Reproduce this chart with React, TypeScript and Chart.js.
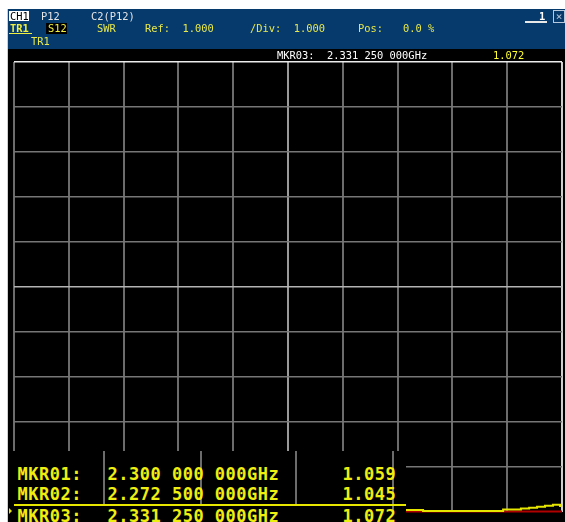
import React, { useEffect, useRef } from "react";
import { Chart, registerables } from "chart.js";

Chart.register(...registerables);

// ---- data ----
const freqStartGHz = 2.2;
const freqStopGHz = 2.4;
const xGridTicks = [2.2, 2.22, 2.24, 2.26, 2.28, 2.3, 2.32, 2.34, 2.36, 2.38, 2.4];
const yGridTicks = [1, 2, 3, 4, 5, 6, 7, 8, 9, 10, 11];
const refLevel = 1.0;
const perDiv = 1.0;

const traceFreqs = [2.2, 2.23, 2.26, 2.2725, 2.29, 2.3, 2.315, 2.33125, 2.3336, 2.3493, 2.3785, 2.385, 2.388, 2.3909, 2.3938, 2.3967, 2.3993, 2.4];
const traceSwr = [1.12, 1.09, 1.06, 1.045, 1.05, 1.059, 1.066, 1.072, 1.033, 1.011, 1.045, 1.067, 1.085, 1.107, 1.129, 1.151, 1.12, 1.12];

const markerNames = ["MKR01:", "MKR02:", "MKR03:"];
const markerFreqs = ["2.300 000 000GHz", "2.272 500 000GHz", "2.331 250 000GHz"];
const markerValues = ["1.059", "1.045", "1.072"];

const HDR_FONT = "'DejaVu Sans Mono', monospace";

function T(props: { x: number; y: number; text: string; color?: string; size?: number; bold?: boolean; bg?: string; ls?: number; style?: React.CSSProperties }) {
  const size = props.size ?? 10.4;
  return (
    <div
      style={{
        position: "absolute",
        left: props.x,
        top: props.y,
        fontFamily: HDR_FONT,
        fontSize: size,
        lineHeight: `${size}px`,
        color: props.color ?? "#e8e84c",
        fontWeight: props.bold ? "bold" : "normal",
        whiteSpace: "pre",
        background: props.bg,
        letterSpacing: props.ls ?? 0,
        ...props.style,
      }}
    >
      {props.text}
    </div>
  );
}

export default function App() {
  const canvasRef = useRef<HTMLCanvasElement | null>(null);

  useEffect(() => {
    if (!canvasRef.current) return;
    const chart = new Chart(canvasRef.current, {
      type: "line",
      data: {
        datasets: [
          {
            label: "TR1 S12 SWR",
            data: traceFreqs.map((f, i) => ({ x: f, y: traceSwr[i] })),
            borderColor: "#e6e600",
            borderWidth: 2,
            pointRadius: 0,
            stepped: true,
            clip: 4,
          },
          {
            label: "Ref",
            data: [
              { x: freqStartGHz, y: refLevel },
              { x: freqStopGHz, y: refLevel },
            ],
            borderColor: "#b00000",
            borderWidth: 2,
            pointRadius: 0,
            clip: 4,
          },
        ],
      },
      options: {
        animation: false,
        responsive: false,
        devicePixelRatio: 1,
        layout: { padding: { left: 14, right: 3, top: 62, bottom: 10.5 } },
        plugins: { legend: { display: false }, tooltip: { enabled: false } },
        events: [],
        scales: {
          x: {
            type: "linear",
            min: freqStartGHz,
            max: freqStopGHz,
            afterBuildTicks: (axis: any) => {
              axis.ticks = xGridTicks.map((v) => ({ value: v }));
            },
            ticks: { display: false },
            border: { display: false },
            grid: {
              drawTicks: false,
              lineWidth: 2,
              color: (ctx: any) =>
                ctx.index === xGridTicks.length - 1 ? "#cfcfcf" : ctx.index === 5 ? "#9a9a9a" : "#6c6c6c",
            },
          },
          y: {
            type: "linear",
            min: refLevel,
            max: refLevel + perDiv * 10,
            afterBuildTicks: (axis: any) => {
              axis.ticks = yGridTicks.map((v) => ({ value: v }));
            },
            ticks: { display: false },
            border: { display: false },
            grid: {
              drawTicks: false,
              lineWidth: 1.5,
              color: (ctx: any) =>
                ctx.index === yGridTicks.length - 1
                  ? "#ececec"
                  : ctx.index === 5
                  ? "#b4b4b4"
                  : ctx.index === 0
                  ? "rgba(0,0,0,0)"
                  : "#767676",
            },
          },
        },
      },
    });
    return () => chart.destroy();
  }, []);

  const TBL_FONT = 17;
  const rowTops = [465.6, 485.6, 507.9];

  return (
    <div
      style={{
        position: "absolute",
        left: 0,
        top: 0,
        width: 565,
        height: 522,
        overflow: "hidden",
        background: "#ffffff",
      }}
    >
      {/* header */}
      <div style={{ position: "absolute", left: 8, top: 9, width: 557, height: 40, background: "#063a6d" }} />
      <div style={{ position: "absolute", left: 7, top: 9, width: 1, height: 513, background: "#d4ccd4" }} />
      {/* screen */}
      <div style={{ position: "absolute", left: 8, top: 49, width: 557, height: 473, background: "#000000" }} />

      <canvas
        ref={canvasRef}
        width={565}
        height={522}
        style={{ position: "absolute", left: 0, top: 0, width: 565, height: 522 }}
      />

      {/* header texts */}
      <div style={{ position: "absolute", left: 9, top: 11, width: 20, height: 10, background: "#ffffff" }} />
      <T x={10} y={11.2} text="CH1" color="#000000" />
      <T x={41} y={11.2} text="P12" color="#e4e4e4" />
      <T x={91} y={11.2} text="C2(P12)" color="#e4e4e4" />

      <T x={10} y={23.2} text="TR1" bold color="#f0f040" />
      <div style={{ position: "absolute", left: 9, top: 33, width: 23, height: 1, background: "#f0f040" }} />
      <div style={{ position: "absolute", left: 46, top: 23, width: 21, height: 11, background: "#000000" }} />
      <T x={48} y={23.2} text="S12" color="#f0f040" />
      <T x={97} y={23.2} text="SWR" />
      <T x={145} y={23.2} text="Ref:  1.000" />
      <T x={250} y={23.2} text="/Div:  1.000" />
      <T x={358} y={23.2} text="Pos:" />
      <T x={403} y={23.2} text="0.0 %" />

      <T x={31} y={36.2} text="TR1" />

      {/* window buttons */}
      <div style={{ position: "absolute", left: 525, top: 21, width: 22, height: 1.5, background: "#e8e8e8" }} />
      <T x={539} y={11.2} text="1" color="#ffffff" bold />
      <div
        style={{
          position: "absolute",
          left: 553,
          top: 10,
          width: 10,
          height: 11,
          border: "1px solid #b8c8dc",
          color: "#b8c8dc",
          fontFamily: HDR_FONT,
          fontSize: 11,
          lineHeight: "11px",
          textAlign: "center",
        }}
      >
        ×
      </div>

      {/* active marker readout */}
      <T x={277} y={49.7} text="MKR03:  2.331 250 000GHz" color="#ffffff" />
      <T x={493} y={49.7} text="1.072" color="#ffff30" />

      {/* marker table */}
      <div style={{ position: "absolute", left: 8, top: 451, width: 398, height: 71, background: "#000000" }} />
      {[103, 200, 295].map((x) => (
        <div key={x} style={{ position: "absolute", left: x, top: 451, width: 2, height: 53, background: "#6c6c6c" }} />
      ))}
      <div style={{ position: "absolute", left: 392, top: 451, width: 2, height: 61, background: "#6c6c6c" }} />
      {markerNames.map((name, i) => (
        <React.Fragment key={name}>
          <T x={17.5} y={rowTops[i]} text={name} size={TBL_FONT} ls={0.5} bold color="#eeee10" />
          <T x={107.5} y={rowTops[i]} text={markerFreqs[i]} size={TBL_FONT} ls={0.5} bold color="#eeee10" />
          <T x={342.5} y={rowTops[i]} text={markerValues[i]} size={TBL_FONT} ls={0.5} bold color="#eeee10" />
        </React.Fragment>
      ))}
      <div style={{ position: "absolute", left: 14, top: 504, width: 392, height: 2, background: "#e6e600" }} />
      <div
        style={{
          position: "absolute",
          left: 9,
          top: 508,
          width: 0,
          height: 0,
          borderTop: "3px solid transparent",
          borderBottom: "3px solid transparent",
          borderLeft: "3px solid #e6e600",
        }}
      />
    </div>
  );
}
